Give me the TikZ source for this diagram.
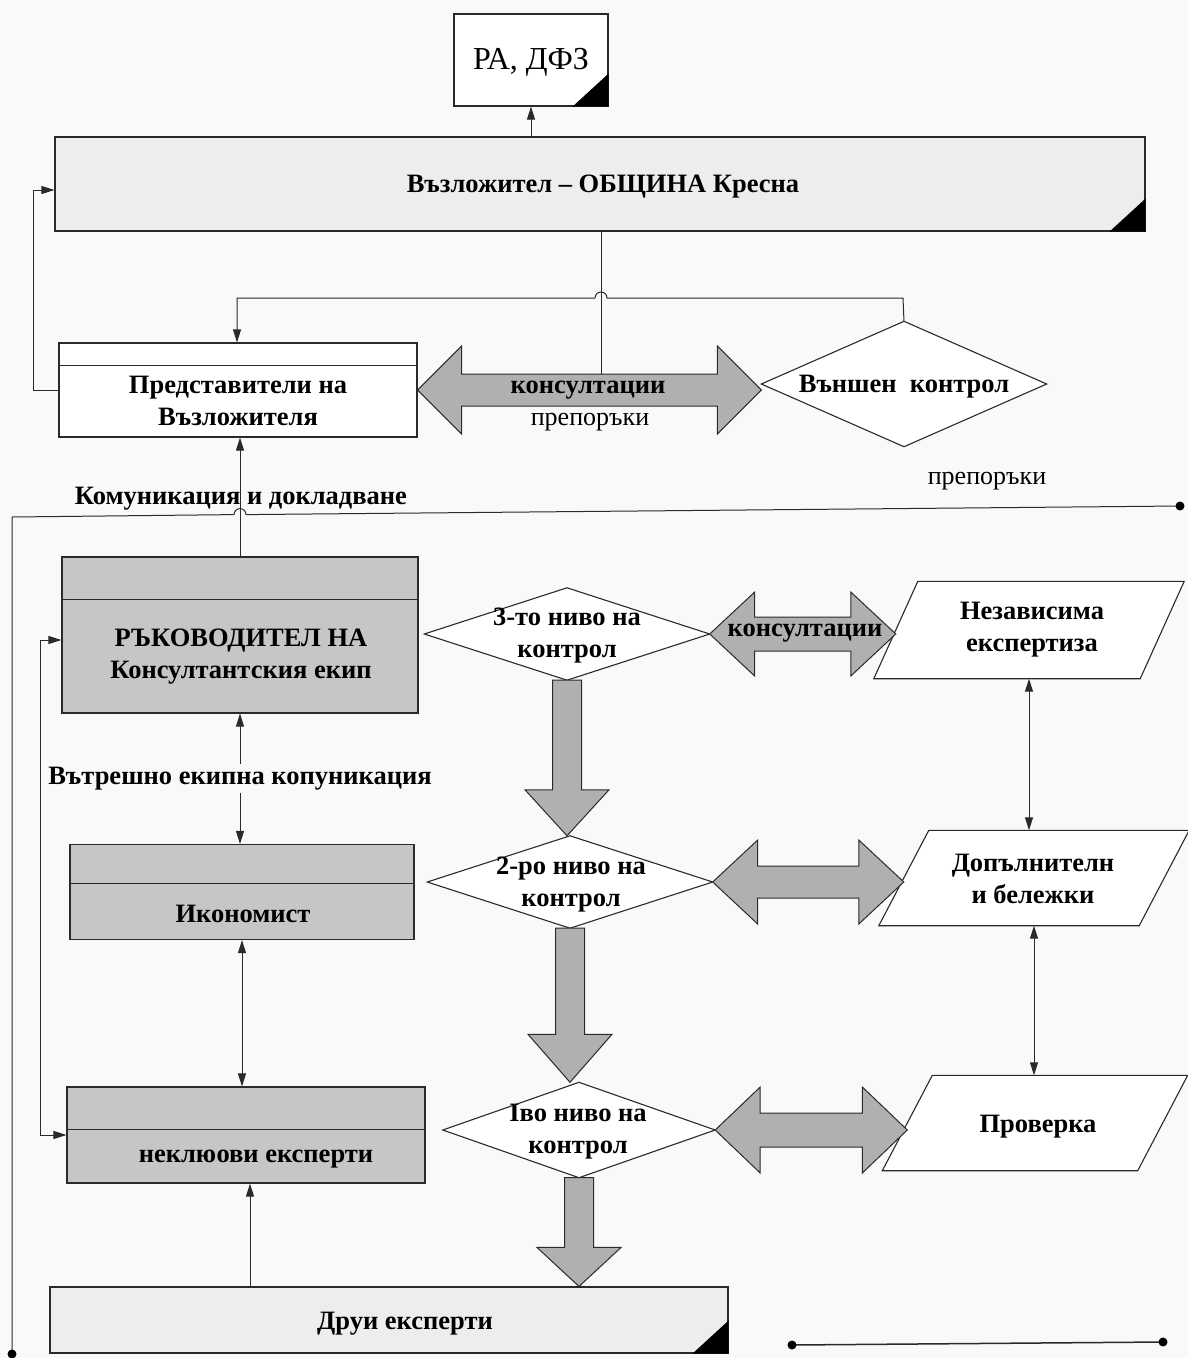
\documentclass[tikz,border=0pt]{standalone}
\usepackage{fontspec}
\setmainfont{Liberation Serif}
\usetikzlibrary{arrows.meta,calc}
\definecolor{bg}{HTML}{F9F9FB}
\definecolor{ln}{HTML}{2A2A2A}
\definecolor{lightbox}{HTML}{EDEDED}
\definecolor{darkbox}{HTML}{C6C6C6}
\definecolor{fatfill}{HTML}{B0B0B0}
\newcommand\cornertri[1]{\fill[black] ($(#1.south east)+(-36,0)$) -- (#1.south east) -- ($(#1.south east)+(0,-33)$) -- cycle;}
\newcommand\hfat[5]{\draw[fat] let \p1=(#1), \p2=(#2) in (\x1,\y1) -- (\x1+#3pt,\y1+#4pt) -- (\x1+#3pt,\y1+#5pt) -- (\x2-#3pt,\y1+#5pt) -- (\x2-#3pt,\y1+#4pt) -- (\x2,\y1) -- (\x2-#3pt,\y1-#4pt) -- (\x2-#3pt,\y1-#5pt) -- (\x1+#3pt,\y1-#5pt) -- (\x1+#3pt,\y1-#4pt) -- cycle;}
\newcommand\vfat[5]{\draw[fat] let \p1=(#1), \p2=(#2) in (\x1-#5pt,\y1) -- (\x1+#5pt,\y1) -- (\x1+#5pt,\y2+#3pt) -- (\x1+#4pt,\y2+#3pt) -- (\x1,\y2) -- (\x1-#4pt,\y2+#3pt) -- (\x1-#5pt,\y2+#3pt) -- cycle;}
\begin{document}
\begin{tikzpicture}[x=1pt,y=-1pt,
  box/.style={draw=ln, line width=1.1pt, inner sep=0pt},
  shape0/.style={inner sep=0pt},
  txt/.style={font=\fontsize{26.5}{32}\selectfont\bfseries, align=center, inner sep=0pt},
  rtxt/.style={font=\fontsize{26}{32}\selectfont, align=center, inner sep=0pt},
  con/.style={draw=ln, line width=1pt, -{Triangle[length=13pt,width=8pt]}},
  dcon/.style={draw=ln, line width=1pt, {Triangle[length=13pt,width=8pt]}-{Triangle[length=13pt,width=8pt]}},
  wire/.style={draw=ln, line width=1pt},
  fat/.style={draw=ln, line width=1pt, fill=fatfill},
  outl/.style={draw=ln, line width=1.1pt, fill=white}]
\useasboundingbox (0,0) rectangle (1188,1358);
\fill[bg] (0,0) rectangle (1188,1358);

% boxes
\node[box, fill=white, minimum width=154pt, minimum height=92pt] (ra) at (531,60) {};
\node[rtxt, font=\fontsize{32}{36}\selectfont] at (531,62) {РА, ДФЗ};
\cornertri{ra}
\node[box, fill=lightbox, minimum width=1090pt, minimum height=94pt] (main) at (600,184) {};
\node[txt] at (603,187) {Възложител – ОБЩИНА Кресна};
\cornertri{main}

\node[box, fill=white, minimum width=358pt, minimum height=94pt] (reps) at (238,390) {};
\draw[wire] ($(reps.north west)+(0,23)$) -- ($(reps.north east)+(0,23)$);
\node[txt] at (238,401) {Представители на\\Възложителя};

\node[box, fill=darkbox, minimum width=356pt, minimum height=156pt] (ruk) at (240,635) {};
\draw[wire] ($(ruk.north west)+(0,43)$) -- ($(ruk.north east)+(0,43)$);
\node[txt] at (241,657) {РЪКОВОДИТЕЛ НА\\Консултантския екип};

\node[box, fill=darkbox, minimum width=344pt, minimum height=95pt] (ikon) at (242,892) {};
\draw[wire] ($(ikon.north west)+(0,40)$) -- ($(ikon.north east)+(0,40)$);
\node[txt] at (243,914) {Икономист};

\node[box, fill=darkbox, minimum width=358pt, minimum height=96pt] (nekl) at (246,1135) {};
\draw[wire] ($(nekl.north west)+(0,43)$) -- ($(nekl.north east)+(0,43)$);
\node[txt] at (256,1159) {неклюови експерти};

\node[box, fill=lightbox, minimum width=678pt, minimum height=66pt] (drui) at (389,1320) {};
\node[txt] at (405,1324) {Друи експерти};
\cornertri{drui}

% diamonds
\node[shape0, minimum width=285pt, minimum height=125pt] (d0) at (904,384) {};
\draw[outl] (d0.west) -- (d0.north) -- (d0.east) -- (d0.south) -- cycle;
\node[txt] at (904,387) {Външен~ контрол};

\node[shape0, minimum width=285pt, minimum height=92pt] (d3) at (567,634) {};
\draw[outl] (d3.west) -- (d3.north) -- (d3.east) -- (d3.south) -- cycle;
\node[txt] at (567,636) {3-то ниво на\\контрол};

\node[shape0, minimum width=285pt, minimum height=92pt] (d2) at (570,882) {};
\draw[outl] (d2.west) -- (d2.north) -- (d2.east) -- (d2.south) -- cycle;
\node[txt] at (571,885) {2-ро ниво на\\контрол};

\node[shape0, minimum width=272pt, minimum height=95pt] (d1) at (579,1130) {};
\draw[outl] (d1.west) -- (d1.north) -- (d1.east) -- (d1.south) -- cycle;
\node[txt] at (578,1132) {Іво ниво на\\контрол};

% parallelograms
\node[shape0, minimum width=266pt, minimum height=97pt] (pg1) at (1029,630) {};
\draw[outl] ($(pg1.north west)+(22,0)$) -- ($(pg1.north east)+(22,0)$) -- ($(pg1.south east)+(-22,0)$) -- ($(pg1.south west)+(-22,0)$) -- cycle;
\node[txt] at (1032,630) {Независима\\експертиза};

\node[shape0, minimum width=260pt, minimum height=95pt] (pg2) at (1034,878) {};
\draw[outl] ($(pg2.north west)+(25,0)$) -- ($(pg2.north east)+(25,0)$) -- ($(pg2.south east)+(-25,0)$) -- ($(pg2.south west)+(-25,0)$) -- cycle;
\node[txt] at (1033,879) {Допълнителн\\и бележки};

\node[shape0, minimum width=255pt, minimum height=95pt] (pg3) at (1035,1123) {};
\draw[outl] ($(pg3.north west)+(25,0)$) -- ($(pg3.north east)+(25,0)$) -- ($(pg3.south east)+(-25,0)$) -- ($(pg3.south west)+(-25,0)$) -- cycle;
\node[txt] at (1038,1127) {Проверка};

% fat arrows
\hfat{reps.east}{d0.west}{44}{44}{16}
\node[txt] at (588,390) {консултации};
\node[rtxt] at (590,422) {препоръки};
\hfat{d3.east}{pg1.west}{45}{42}{17}
\node[txt] at (805,633) {консултации};
\hfat{d2.east}{pg2.west}{45}{42}{16}
\hfat{d1.east}{pg3.west}{45}{43}{17}
\vfat{d3.south}{d2.north}{46}{42}{14.5}
\vfat{d2.south}{d1.north}{48}{42}{14.5}
\vfat{d1.south}{drui.north}{39}{42}{14.5}

% thin connectors
\draw[con] (main.north -| ra.south) -- (ra.south);
\coordinate (ctop) at (601,374);
\draw[wire] (main.south -| ctop) -- (ctop);
\draw[con] (d0.north) -- (903,298) -- (607,298) arc[start angle=0, end angle=-180, radius=6] -- (237,298) -- (reps.north -| 237,0);
\draw[con] (reps.west) -- (33,390) |- ($(main.west)+(0,6)$);
\draw[con] (ruk.north) -- (ruk.north |- reps.south);
\node[txt] at (241,499) {Комуникация и докладване};
\node[rtxt] at (987,481) {препоръки};
\coordinate (rdot) at (1180,506);
\coordinate (ldot) at (12,1354);
\draw[wire] (rdot) -- (246,514.6) arc[start angle=0, end angle=-180, radius=6] -- (12,517) -- (ldot);
\fill[black] (rdot) circle (4.5) (ldot) circle (4.5);
\draw[dcon] (ruk.south) -- (ruk.south |- ikon.north) node[midway, fill=bg, txt, inner sep=3pt] {Вътрешно екипна копуникация};
\draw[dcon] (ikon.south) -- (ikon.south |- nekl.north);
\draw[con] (drui.north -| 250,0) -- (nekl.south -| 250,0);
\draw[dcon] ($(ruk.west)+(0,5)$) -- ++(-21,0) |- (nekl.west);
\draw[dcon] (pg1.south) -- (pg1.south |- pg2.north);
\draw[dcon] (pg2.south) -- (pg2.south |- pg3.north);
\coordinate (b1) at (792,1345);
\coordinate (b2) at (1163,1342);
\draw[wire, line width=1.5pt] (b1) -- (b2);
\fill[black] (b1) circle (4.5) (b2) circle (4.5);
\end{tikzpicture}
\end{document}
